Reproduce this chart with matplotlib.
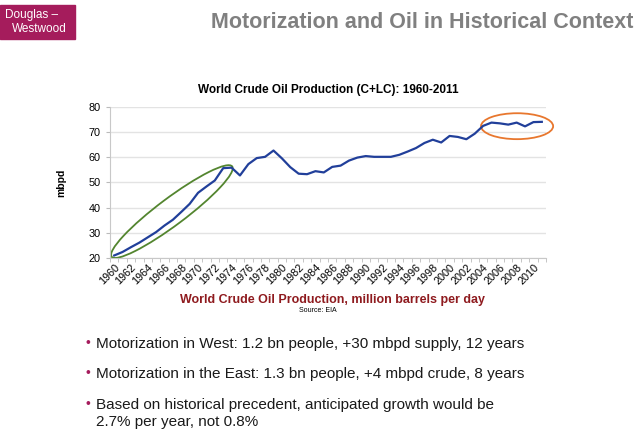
import numpy as np
import matplotlib
matplotlib.use("Agg")
import matplotlib.pyplot as plt
from matplotlib.patches import Ellipse, Rectangle
from matplotlib.transforms import IdentityTransform, offset_copy

plt.rcParams['font.family'] = ['Liberation Sans', 'DejaVu Sans']

YEARS = list(range(1960, 2012))
PRODUCTION = [21.0, 22.4, 24.3, 26.1, 28.2, 30.3, 32.9, 35.2, 38.3, 41.5,
              45.9, 48.4, 50.8, 55.7, 55.9, 52.8, 57.3, 59.7, 60.2, 62.7,
              59.6, 56.1, 53.5, 53.3, 54.5, 54.0, 56.2, 56.7, 58.7, 59.9,
              60.5, 60.2, 60.2, 60.2, 61.0, 62.3, 63.7, 65.7, 67.0, 65.9,
              68.5, 68.1, 67.2, 69.4, 72.5, 73.8, 73.5, 73.0, 73.8, 72.3,
              74.0, 74.1]
WEST_SPAN = (1960, 1974)
EAST_SPAN = (2004, 2011)
BULLETS = [
    "Motorization in West: 1.2 bn people, +30 mbpd supply, 12 years",
    "Motorization in the East: 1.3 bn people, +4 mbpd crude, 8 years",
    "Based on historical precedent, anticipated growth would be\n2.7% per year, not 0.8%",
]

LINE_C = '#213f9a'
GREEN = '#53852f'
ORANGE = '#e8772e'
MAGENTA = '#a51c5c'
DARKRED = '#8f1b1f'

fig = plt.figure(figsize=(6.4, 4.44), dpi=100)

# header
fig.patches.append(Rectangle((0, 1 - 39 / 444), 75 / 640, 34 / 444,
                             transform=fig.transFigure, color=MAGENTA))
fig.text(5 / 640, 1 - 15 / 444, 'Douglas \u2013', color='white', fontsize=8.5,
         va='center', ha='left')
fig.text(12 / 640, 1 - 29 / 444, 'Westwood', color='white', fontsize=8.5,
         va='center', ha='left')
fig.text(633 / 640, 1 - 23 / 444, 'Motorization and Oil in Historical Context',
         color='#808080', fontsize=15.5, fontweight='bold', ha='right', va='center')

ax = fig.add_axes([110 / 640, 1 - 258 / 444, 436 / 640, 151 / 444])
x = np.arange(len(YEARS))
ax.plot(x, PRODUCTION, color=LINE_C, lw=1.6, solid_joinstyle='round')
ax.set_xlim(-0.5, len(YEARS) - 0.5)
ax.set_ylim(20, 80)
ax.set_yticks(range(20, 81, 10))
ax.set_xticks(x[::2])
ax.set_xticklabels([str(y) for y in YEARS[::2]], rotation=45, ha='right',
                   rotation_mode='anchor', fontsize=7.8)
for lbl in ax.get_xticklabels():
    lbl.set_transform(offset_copy(lbl.get_transform(), fig=fig, x=3, y=-3,
                                  units='dots'))
ax.set_xticks(np.arange(len(YEARS) + 1) - 0.5, minor=True)
ax.tick_params(axis='x', which='major', length=0, pad=3)
ax.tick_params(axis='x', which='minor', length=3, color='#bbbbbb')
ax.tick_params(axis='y', length=3, color='#bbbbbb', labelsize=7.8, pad=4)
ax.grid(axis='y', color='#e3e3e3', lw=1)
ax.set_axisbelow(True)
for s in ('top', 'right'):
    ax.spines[s].set_visible(False)
for s in ('left', 'bottom'):
    ax.spines[s].set_color('#c8c8c8')

ax.set_title('World Crude Oil Production (C+LC): 1960-2011', fontsize=8.5,
             fontweight='bold', pad=10)
ax.set_ylabel('mbpd', fontsize=7.5, fontweight='bold', labelpad=16)
fig.text(333 / 640, 1 - 300 / 444,
         'World Crude Oil Production, million barrels per day',
         color=DARKRED, fontsize=9, fontweight='bold', ha='center', va='center')
fig.text(318 / 640, 1 - 310 / 444, 'Source: EIA', fontsize=5,
         ha='center', va='center')

# ellipses around the two growth periods, built in display space from data
fig.canvas.draw()
i0, i1 = YEARS.index(WEST_SPAN[0]), YEARS.index(WEST_SPAN[1])
p0 = ax.transData.transform((i0, PRODUCTION[i0]))
p1 = ax.transData.transform((i1, PRODUCTION[i1]))
c = (p0 + p1) / 2 + np.array([-1.0, 0.0])
d = p1 - p0
ang = np.degrees(np.arctan2(d[1], d[0]))
ax.add_patch(Ellipse(c, np.hypot(*d) + 4, 27, angle=ang, fill=False,
                     ec=GREEN, lw=1.3, transform=IdentityTransform(),
                     clip_on=False))

j0, j1 = YEARS.index(EAST_SPAN[0]), YEARS.index(EAST_SPAN[1])
seg = PRODUCTION[j0:j1 + 1]
cx = (j0 + j1) / 2 + 0.55
cy = np.mean(seg) - 1.0
ax.add_patch(Ellipse((cx, cy), (j1 - j0) + 1.6, 10.3, fill=False,
                     ec=ORANGE, lw=1.3, clip_on=False))

# bullets
ys = [344, 374, 405]
for y, t in zip(ys, BULLETS):
    fig.text(85 / 640, 1 - (y - 1) / 444, '\u2022', color=MAGENTA,
             fontsize=10, ha='left', va='center')
    fig.text(96 / 640, 1 - (y - 7) / 444, t, color='#1a1a1a', fontsize=11,
             ha='left', va='top', linespacing=1.3)

fig.savefig('out.png', dpi=100)
